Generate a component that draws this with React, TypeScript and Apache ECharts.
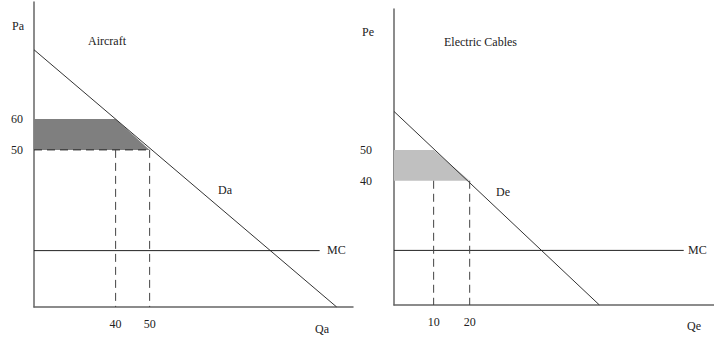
import React, { useEffect, useRef } from "react";
import * as echarts from "echarts";

// Aircraft panel (left)
const aircraftDemand = [[16, 82.5], [105, -1]];
const aircraftMC = [[16, 17.3], [100, 17.3]];
const aircraftPriceTicks = [50, 60];
const aircraftQtyTicks = [40, 50];
const aircraftArea = [[16, 60], [40, 60], [50, 50], [16, 50]];
const aircraftDashH = [[16, 50], [50, 50]];
const aircraftDashV1 = [[40, 50], [40, -1]];
const aircraftDashV2 = [[50, 50], [50, -1]];

// Electric cables panel (right)
const cablesDemand = [[-1, 62.6], [56, -0.5]];
const cablesMC = [[-1, 17.3], [79.4, 17.3]];
const cablesPriceTicks = [40, 50];
const cablesQtyTicks = [10, 20];
const cablesArea = [[-1, 50], [10, 50], [20, 40], [-1, 40]];
const cablesDashV1 = [[10, 40], [10, -0.5]];
const cablesDashV2 = [[20, 40], [20, -0.5]];

const FONT = "Liberation Serif";
const TEXT = "#222";

export default function App() {
  const ref = useRef<HTMLDivElement>(null);
  useEffect(() => {
    const chart = echarts.init(ref.current!, null, { renderer: "svg" });
    const axisLine = { show: true, lineStyle: { color: "#666", width: 1.5 } };
    const mkX = (i: number, min: number, max: number, ticks: number[]) => ({
      type: "value", gridIndex: i, min, max,
      axisLine: { ...axisLine, onZero: false },
      splitLine: { show: false }, axisTick: { show: false },
      axisLabel: { customValues: ticks, fontFamily: FONT, fontSize: 12, color: TEXT, margin: 11 },
    });
    const mkY = (i: number, min: number, max: number, ticks: number[], margin: number) => ({
      type: "value", gridIndex: i, min, max,
      axisLine: { ...axisLine, onZero: false },
      splitLine: { show: false }, axisTick: { show: false },
      axisLabel: { customValues: ticks, fontFamily: FONT, fontSize: 12, color: TEXT, margin },
    });
    const line = (i: number, data: number[][], color: string, width: number, type: any = "solid") => ({
      type: "line", xAxisIndex: i, yAxisIndex: i, data, symbol: "none", silent: true,
      lineStyle: { color, width, type },
    });
    const poly = (i: number, pts: number[][], color: string) => ({
      type: "custom", xAxisIndex: i, yAxisIndex: i, data: [[pts[0][0], pts[0][1]]], silent: true,
      renderItem: (_p: any, api: any) => ({
        type: "polygon",
        shape: { points: pts.map((p) => api.coord(p)) },
        style: { fill: color, stroke: "none" },
      }),
    });
    const txt = (left: number, top: number, text: string) => ({
      type: "text", left, top,
      style: { text, fill: TEXT, font: `12px "${FONT}"` },
    });
    const dash = [8, 5];
    chart.setOption({
      animation: false,
      grid: [
        { left: 34, top: 2, width: 319, height: 305 },
        { left: 394, top: 9, width: 320, height: 296 },
      ],
      xAxis: [mkX(0, 16, 109.8, aircraftQtyTicks), mkX(1, -1, 87.8, cablesQtyTicks)],
      yAxis: [mkY(0, -1, 98, aircraftPriceTicks, 11), mkY(1, -0.5, 96, cablesPriceTicks, 22)],
      series: [
        poly(0, aircraftArea, "#7f7f7f"),
        line(0, aircraftDemand, "#333", 1),
        line(0, aircraftMC, "#222", 1),
        line(0, aircraftDashH, "#222", 1, dash),
        line(0, aircraftDashV1, "#444", 1, dash),
        line(0, aircraftDashV2, "#444", 1, dash),
        poly(1, cablesArea, "#c0c0c0"),
        line(1, cablesDemand, "#333", 1),
        line(1, cablesMC, "#222", 1),
        line(1, cablesDashV1, "#444", 1, dash),
        line(1, cablesDashV2, "#444", 1, dash),
      ],
      graphic: [
        txt(12, 20, "Pa"),
        txt(88, 35, "Aircraft"),
        txt(218, 184, "Da"),
        txt(327, 244, "MC"),
        txt(315, 323, "Qa"),
        txt(362, 26, "Pe"),
        txt(444, 36, "Electric Cables"),
        txt(496, 186, "De"),
        txt(688, 244, "MC"),
        txt(687, 320, "Qe"),
      ],
    });
    return () => chart.dispose();
  }, []);
  return (
    <div
      ref={ref}
      style={{ position: "fixed", left: 0, top: 0, width: 714, height: 337, background: "#fff" }}
    />
  );
}
